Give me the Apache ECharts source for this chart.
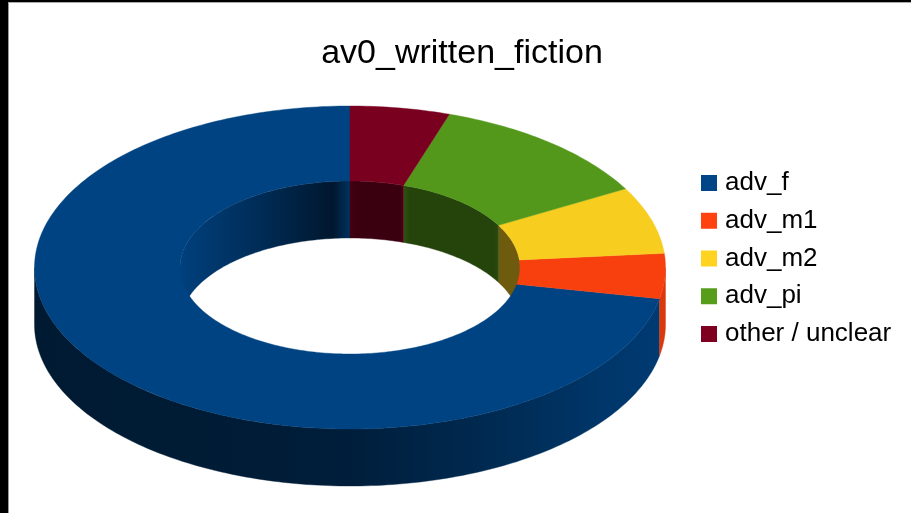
<!DOCTYPE html>
<html><head><meta charset="utf-8">
<style>html,body{margin:0;padding:0;background:#fff}#c{width:911px;height:513px}</style>
<script src="https://cdn.jsdelivr.net/npm/echarts@6/dist/echarts.min.js"></script>
</head><body><div id="c"></div>
<script>
const titleText = 'av0_written_fiction';
const categories = ['adv_f', 'adv_m1', 'adv_m2', 'adv_pi', 'other / unclear'];
const values = [71.9, 4.5, 6.7, 11.8, 5.1];
const colors = ['#004586', '#ff420e', '#ffd320', '#579d1c', '#7e0021'];

// Projection of the ring
const geo = {cx: 350, cy: 267.5, rx: 315.5, ry: 161.5, irx: 170, iry: 86.5, depth: 57};
// Shading: [x, brightness]
const topBrightness = 0.97;
const outerShade = [[34, .37], [250, .40], [350, .44], [500, .62], [600, .78], [666, .86]];
const innerShades = [
  [[180, .93], [260, .64], [333, .34], [350, .72]],
  [[500, .5], [520, .5]],
  [[499, .43], [520, .43]],
  [[405, .5], [410, .43], [494, .43], [499, .48]],
  [[350, .55], [356, .47], [400, .46], [405, .7]]
];

const total = values.reduce((a, b) => a + b, 0);
function rgb(hex) { return [1, 3, 5].map(i => parseInt(hex.substr(i, 2), 16)); }
function tint(hex, k) { return 'rgb(' + rgb(hex).map(v => Math.round(v * k)).join(',') + ')'; }
function shadeFill(hex, stops) {
  const x0 = stops[0][0], x1 = stops[stops.length - 1][0];
  return {type: 'linear', x: x0, y: 0, x2: x1, y2: 0, global: true,
    colorStops: stops.map(s => ({offset: (s[0] - x0) / (x1 - x0), color: tint(hex, s[1])}))};
}
function pt(rx, ry, dy, deg) {
  const a = deg * Math.PI / 180;
  return [geo.cx + rx * Math.sin(a), geo.cy - ry * Math.cos(a) + dy];
}
function arc(rx, ry, dy, from, to) {
  const n = Math.max(2, Math.ceil(Math.abs(to - from))), pts = [];
  for (let i = 0; i <= n; i++) pts.push(pt(rx, ry, dy, from + (to - from) * i / n));
  return pts;
}
function band(from, to, rx1, ry1, dy1, rx2, ry2, dy2) {
  return arc(rx1, ry1, dy1, from, to).concat(arc(rx2, ry2, dy2, to, from));
}
function overlap(s, e, a, b) { const l = Math.max(s, a), h = Math.min(e, b); return h > l ? [l, h] : null; }

function renderSlice(idx) {
  return function () {
    const before = values.slice(0, idx).reduce((a, b) => a + b, 0);
    const e = 360 - before / total * 360, s = 360 - (before + values[idx]) / total * 360;
    const col = colors[idx], kids = [];
    const add = (pts, fill, z2) => kids.push({type: 'polygon', z2: z2, silent: true,
      shape: {points: pts}, style: {fill: fill, stroke: fill, lineWidth: 0.4}});
    const o = overlap(s, e, 90, 270);
    if (o) add(band(o[0], o[1], geo.rx, geo.ry, 0, geo.rx, geo.ry, geo.depth), shadeFill(col, outerShade), 1);
    [[0, 90], [270, 360]].forEach(r => {
      const w = overlap(s, e, r[0], r[1]);
      if (w) add(band(w[0], w[1], geo.irx, geo.iry, 0, geo.irx, geo.iry, geo.depth), shadeFill(col, innerShades[idx]), 2);
    });
    add(band(s, e, geo.rx, geo.ry, 0, geo.irx, geo.iry, 0), tint(col, topBrightness), 3);
    return {type: 'group', children: kids};
  };
}

const chart = echarts.init(document.getElementById('c'), null, {renderer: 'canvas'});
chart.setOption({
  animation: false,
  backgroundColor: '#fff',
  color: colors,
  title: {text: titleText, left: 457, top: 32, textAlign: 'center',
    textStyle: {fontFamily: 'Liberation Sans', fontSize: 34, fontWeight: 'normal', color: '#000'}},
  legend: {orient: 'vertical', left: 696, top: 165, icon: 'rect', itemWidth: 16, itemHeight: 16, itemGap: 11.75,
    selectedMode: false, data: categories,
    textStyle: {fontFamily: 'Liberation Sans', fontSize: 26, color: '#000', padding: [0, 0, 0, 3]}},
  graphic: [
    {type: 'rect', silent: true, z: 100, shape: {x: 0, y: 0, width: 8, height: 513}, style: {fill: '#000'}},
    {type: 'rect', silent: true, z: 100, shape: {x: 0, y: 0, width: 911, height: 2}, style: {fill: '#000'}},
    {type: 'rect', silent: true, z: 100, shape: {x: 8, y: 2, width: 1, height: 511}, style: {fill: '#999'}},
    {type: 'rect', silent: true, z: 100, shape: {x: 8, y: 2, width: 903, height: 1}, style: {fill: '#aaa'}}
  ],
  series: categories.map((name, i) => ({
    type: 'custom', name: name, coordinateSystem: 'none', silent: true,
    data: [[values[i]]], renderItem: renderSlice(i)
  }))
});
</script></body></html>
